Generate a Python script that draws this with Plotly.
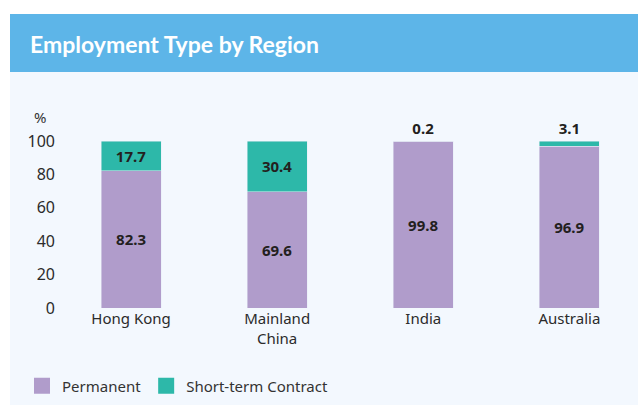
import plotly.graph_objects as go

regions = ["Hong Kong", "Mainland<br>China", "India", "Australia"]
permanent = [82.3, 69.6, 99.8, 96.9]
short_term = [17.7, 30.4, 0.2, 3.1]
y_ticks = [0, 20, 40, 60, 80, 100]
series_names = ["Permanent", "Short-term Contract"]

PURPLE = "#b09ccb"
TEAL = "#2db8a9"
TXT = "#231f20"
FONT = "Noto Sans"

fig = go.Figure()
fig.add_trace(go.Bar(
    x=regions, y=permanent, name=series_names[0], marker_color=PURPLE, width=0.41,
    text=[f"{v:.1f}" for v in permanent], textposition="inside",
    insidetextanchor="middle", showlegend=False,
    textfont=dict(family=FONT, size=15, color=TXT, weight="bold"),
))
fig.add_trace(go.Bar(
    x=regions, y=short_term, name=series_names[1], marker_color=TEAL, width=0.41,
    text=[f"{v:.1f}" for v in short_term],
    textposition=["inside" if v > 10 else "outside" for v in short_term],
    insidetextanchor="middle", showlegend=False,
    textfont=dict(family=FONT, size=15, color=TXT, weight="bold"),
    outsidetextfont=dict(family=FONT, size=15, color=TXT, weight="bold"),
    cliponaxis=False,
))
for name, col in zip(series_names, [PURPLE, TEAL]):
    fig.add_trace(go.Scatter(
        x=[None], y=[None], mode="markers", name=name,
        marker=dict(symbol="square", size=16, color=col), showlegend=True,
    ))

L, T, B = 58, 100, 97
W, H = 638, 405
pw = W - L
ph = H - T - B

def px(x):
    return (x - L) / pw

def py(y):
    return (H - B - y) / ph

fig.update_layout(
    width=W, height=H,
    margin=dict(l=L, r=0, t=T, b=B, pad=0),
    paper_bgcolor="white", plot_bgcolor="rgba(0,0,0,0)",
    barmode="stack",
    font=dict(family=FONT, size=15, color="#333333"),
    uniformtext=dict(minsize=15, mode="show"),
    xaxis=dict(range=[-0.5, 3.47], showgrid=False, showline=False, zeroline=False,
               ticks="", tickfont=dict(size=15, color="#2b2b2b"), fixedrange=True),
    yaxis=dict(range=[0, 100 * ph / 167], tickvals=y_ticks, showgrid=False,
               showline=False, zeroline=False, ticks="", ticklabelstandoff=2,
               tickfont=dict(size=16, color="#2b2b2b"), fixedrange=True),
    showlegend=True,
    legend=dict(orientation="h", x=px(22), xanchor="left", y=py(386), yanchor="middle",
                font=dict(size=15, color="#333333"), bgcolor="rgba(0,0,0,0)",
                itemwidth=30, traceorder="normal"),
    shapes=[
        dict(type="rect", xref="paper", yref="paper", x0=px(10), x1=px(640),
             y0=py(406), y1=py(72), fillcolor="#f3f8fe", line_width=0, layer="below"),
        dict(type="rect", xref="paper", yref="paper", x0=px(10), x1=px(640),
             y0=py(72), y1=py(14), fillcolor="#5db5e8", line_width=0, layer="below"),
    ],
    annotations=[
        dict(text="Employment Type by Region", xref="paper", yref="paper",
             x=px(28), y=py(44), xanchor="left", yanchor="middle", showarrow=False,
             font=dict(family="Lato", size=23, color="white", weight="bold")),
        dict(text="%", xref="paper", yref="paper", x=px(32), y=py(117),
             xanchor="left", yanchor="middle", showarrow=False,
             font=dict(size=15, color="#333333")),
    ],
)

fig.write_html("out.html", config={"displayModeBar": False},
               post_script="document.body.style.margin='0';document.body.style.padding='0';")
